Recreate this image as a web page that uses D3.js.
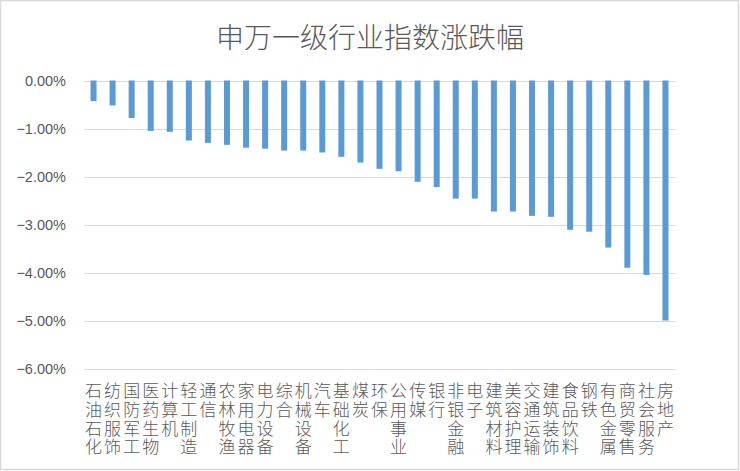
<!DOCTYPE html>
<html><head><meta charset="utf-8">
<script src="https://cdn.jsdelivr.net/npm/d3@7"></script>
<style>
html,body{margin:0;padding:0;background:#fff;}
svg{display:block;}
</style></head>
<body>
<svg id="chart" width="740" height="471"></svg>
<script>
const categories = ["石油石化","纺织服饰","国防军工","医药生物","计算机","轻工制造","通信","农林牧渔","家用电器","电力设备","综合","机械设备","汽车","基础化工","煤炭","环保","公用事业","传媒","银行","非银金融","电子","建筑材料","美容护理","交通运输","建筑装饰","食品饮料","钢铁","有色金属","商贸零售","社会服务","房地产"];
const values = [-0.43,-0.52,-0.78,-1.05,-1.07,-1.25,-1.30,-1.34,-1.40,-1.42,-1.46,-1.46,-1.50,-1.59,-1.71,-1.84,-1.89,-2.11,-2.22,-2.46,-2.46,-2.73,-2.73,-2.82,-2.84,-3.11,-3.15,-3.48,-3.90,-4.05,-5.00];
const yTicks = [0,-1,-2,-3,-4,-5,-6];
const title = "申万一级行业指数涨跌幅";

const svg = d3.select("#chart");
const W = 740, H = 471;
const plot = {left: 84, right: 675, top: 80.5, bottom: 368.5};

// outer border
svg.append("rect").attr("x",0.5).attr("y",0.5).attr("width",W-2).attr("height",H-2)
  .attr("fill","#fff").attr("stroke","#d9d9d9").attr("stroke-width",1.5);

const x = d3.scaleBand().domain(categories).range([plot.left, plot.right])
  .paddingInner(0.685).paddingOuter(0.3425);
const y = d3.scaleLinear().domain([-6,0]).range([plot.bottom, plot.top]);

// gridlines
svg.append("g").selectAll("line").data(yTicks).join("line")
  .attr("x1",plot.left).attr("x2",plot.right)
  .attr("y1",d=>Math.round(y(d))+0.5).attr("y2",d=>Math.round(y(d))+0.5)
  .attr("stroke","#d9d9d9").attr("stroke-width",1);

// y axis labels
const yAxis = d3.axisLeft(y).tickValues(yTicks).tickSize(0).tickPadding(0)
  .tickFormat(d=>d3.format(".2f")(d)+"%");
const gy = svg.append("g").attr("transform",`translate(66,0)`).call(yAxis);
gy.select(".domain").remove();
gy.selectAll("text").attr("font-family","'Liberation Sans', Arial, sans-serif")
  .attr("font-size","14.5px").attr("fill","#595959");

// bars
svg.append("g").selectAll("rect").data(values).join("rect")
  .attr("x",(d,i)=>x(categories[i]))
  .attr("width",x.bandwidth())
  .attr("y",d=>y(0))
  .attr("height",d=>y(d)-y(0))
  .attr("fill","#5b9bd5");

// x labels (vertical stacked characters)
const xl = svg.append("g").attr("font-family","'Noto Sans CJK SC', sans-serif")
  .attr("font-size","17px").attr("font-weight",300).attr("fill","#595959")
  .attr("text-anchor","middle");
categories.forEach(c=>{
  const cx = x(c)+x.bandwidth()/2;
  const t = xl.append("text").attr("x",cx).attr("y",397);
  Array.from(c).forEach((ch,j)=>{
    t.append("tspan").attr("x",cx).attr("dy", j===0?0:18.8).text(ch);
  });
});

// title
svg.append("text").attr("x",370).attr("y",48).attr("text-anchor","middle")
  .attr("font-family","'Noto Sans CJK SC', sans-serif").attr("font-weight",300)
  .attr("font-size","28px").attr("fill","#595959").text(title);
</script>
</body></html>
